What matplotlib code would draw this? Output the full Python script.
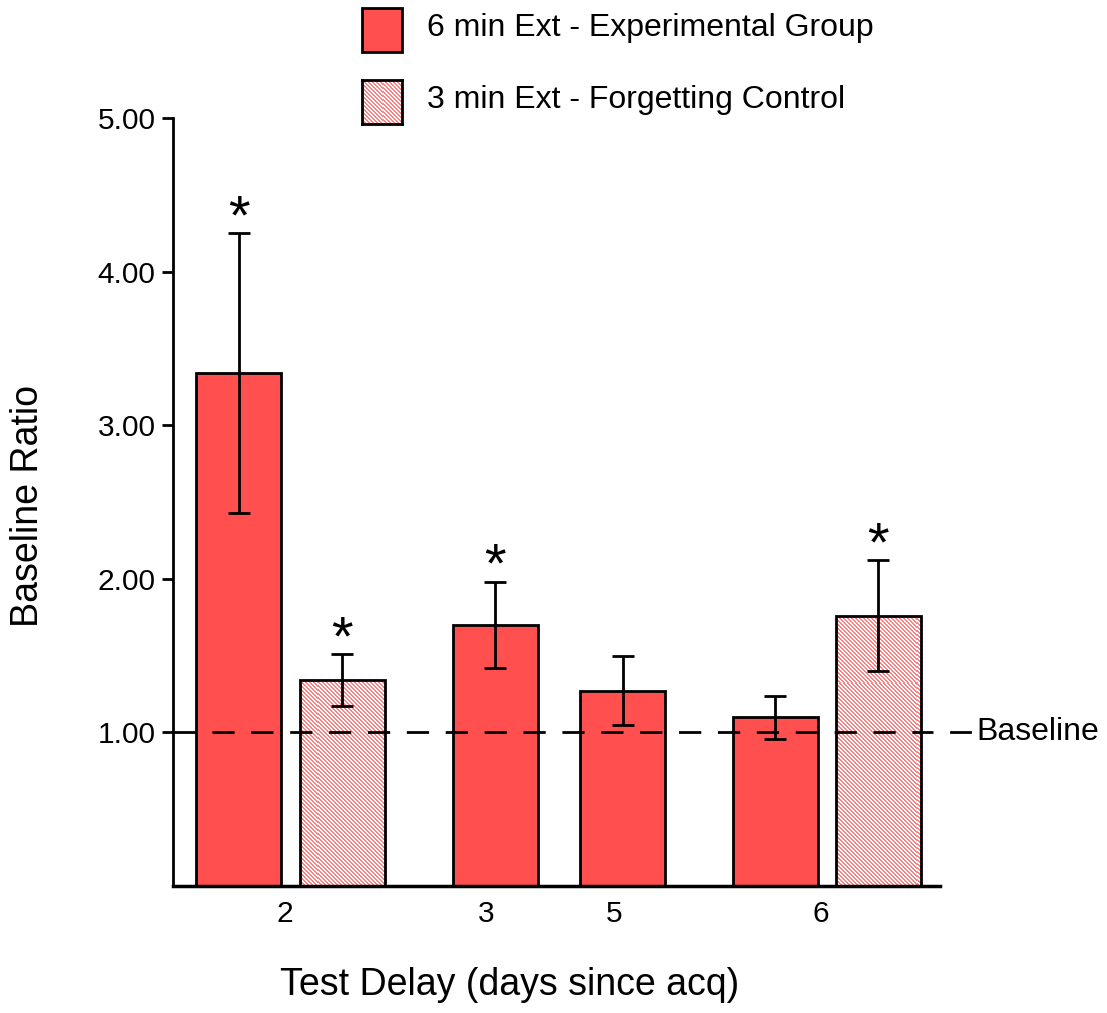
import numpy as np
import matplotlib
matplotlib.use("Agg")
import matplotlib.pyplot as plt
from matplotlib.patches import Rectangle

plt.rcParams['font.family'] = ['Liberation Sans', 'DejaVu Sans']

# Data
groups = ["2", "3", "5", "6"]
bar_kind = ["exp", "ctrl", "exp", "exp", "exp", "ctrl"]
means = [3.34, 1.34, 1.70, 1.27, 1.10, 1.76]
errors = [0.91, 0.17, 0.28, 0.225, 0.14, 0.36]
significant = [True, True, True, False, False, True]
baseline_value = 1.0
yticks = [1.00, 2.00, 3.00, 4.00, 5.00]
legend_labels = {"exp": "6 min Ext - Experimental Group",
                 "ctrl": "3 min Ext - Forgetting Control"}

# Layout (bar width = 1 unit)
bar_x = [0.77, 1.99, 3.79, 5.29, 7.08, 8.29]
group_label_x = [1.32, 3.68, 5.19, 7.62]

RED = "#ff4f4f"


def dither_texture(h, w):
    """Fine diagonal pink/white dither used as the fill of the control bars."""
    i, j = np.indices((h, w))
    on = ((j - i) % 4) < 2
    img = np.ones((h, w, 3))
    img[on] = np.array([255, 128, 128]) / 255.0
    return img


W, H = 1107, 1013
fig = plt.figure(figsize=(W / 100, H / 100), dpi=100)
ax = fig.add_axes([0.1563, 0.1254, 0.6930, 0.7581])
XMAX = 9.02
ax.set_xlim(0, XMAX)
ax.set_ylim(0, 5)

ax_px_w = int(round(0.6930 * W))
ax_px_h = int(round(0.7581 * H))
texture = dither_texture(ax_px_h, ax_px_w)

for x, m, e, k, s in zip(bar_x, means, errors, bar_kind, significant):
    if k == "exp":
        ax.bar(x, m, width=1.0, color=RED, edgecolor="black", linewidth=2, zorder=2)
    else:
        bars = ax.bar(x, m, width=1.0, color="none", edgecolor="black",
                      linewidth=2, zorder=2.1)
        im = ax.imshow(texture, extent=(0, XMAX, 0, 5), origin="upper",
                       interpolation="nearest", aspect="auto", zorder=1.9)
        im.set_clip_path(bars.patches[0])
    ax.errorbar(x, m, yerr=e, fmt="none", ecolor="black", elinewidth=2,
                capsize=8, capthick=2, zorder=4)
    if s:
        ax.annotate("*", xy=(x, m + e), xytext=(0, 0), textcoords="offset points",
                    ha="center", va="baseline", fontsize=40, zorder=5)

ax.set_xlim(0, XMAX)
ax.set_ylim(0, 5)

# Baseline reference
ax.axhline(baseline_value, xmin=0, xmax=0.99, color="black", linewidth=2,
           dashes=(8, 6), zorder=3)
ax.annotate("Baseline", xy=(1.0, baseline_value), xycoords=("axes fraction", "data"),
            xytext=(26, 0), textcoords="offset points", ha="left", va="center",
            fontsize=23)
ax.plot([1.0135, 1.039], [baseline_value, baseline_value],
        transform=ax.get_yaxis_transform(), color="black", linewidth=2, clip_on=False)

# Axes styling
for side in ("top", "right"):
    ax.spines[side].set_visible(False)
ax.spines["left"].set_linewidth(2)
ax.spines["bottom"].set_linewidth(2.5)
ax.set_yticks(yticks)
ax.set_yticklabels([f"{v:.2f}" for v in yticks], fontsize=21.5)
ax.tick_params(axis="y", length=8, width=2, pad=4.5)
ax.set_xticks(group_label_x)
ax.set_xticklabels(groups, fontsize=21.5)
ax.tick_params(axis="x", length=0, pad=10)
ax.set_ylabel("Baseline Ratio", fontsize=27, va="center")
ax.yaxis.set_label_coords(-0.189, 0.495)
ax.set_xlabel("Test Delay (days since acq)", fontsize=27, va="center")
ax.xaxis.set_label_coords(0.439, -0.129)

# Legend drawn as figure-level swatches and labels
for i, k in enumerate(["exp", "ctrl"]):
    top = 8 + i * 72
    rect = (362 / W, 1 - (top + 44) / H, 40 / W, 44 / H)
    if k == "exp":
        fig.patches.append(Rectangle(rect[:2], rect[2], rect[3],
                                     transform=fig.transFigure, facecolor=RED,
                                     edgecolor="black", linewidth=2))
    else:
        sw = fig.add_axes(rect)
        sw.imshow(dither_texture(44, 40), interpolation="nearest", aspect="auto")
        sw.set_xticks([])
        sw.set_yticks([])
        for sp in sw.spines.values():
            sp.set_linewidth(2)
    fig.text(427 / W, 1 - (top + 20) / H, legend_labels[k], fontsize=23,
             ha="left", va="center")

fig.savefig("out.png", dpi=100)
